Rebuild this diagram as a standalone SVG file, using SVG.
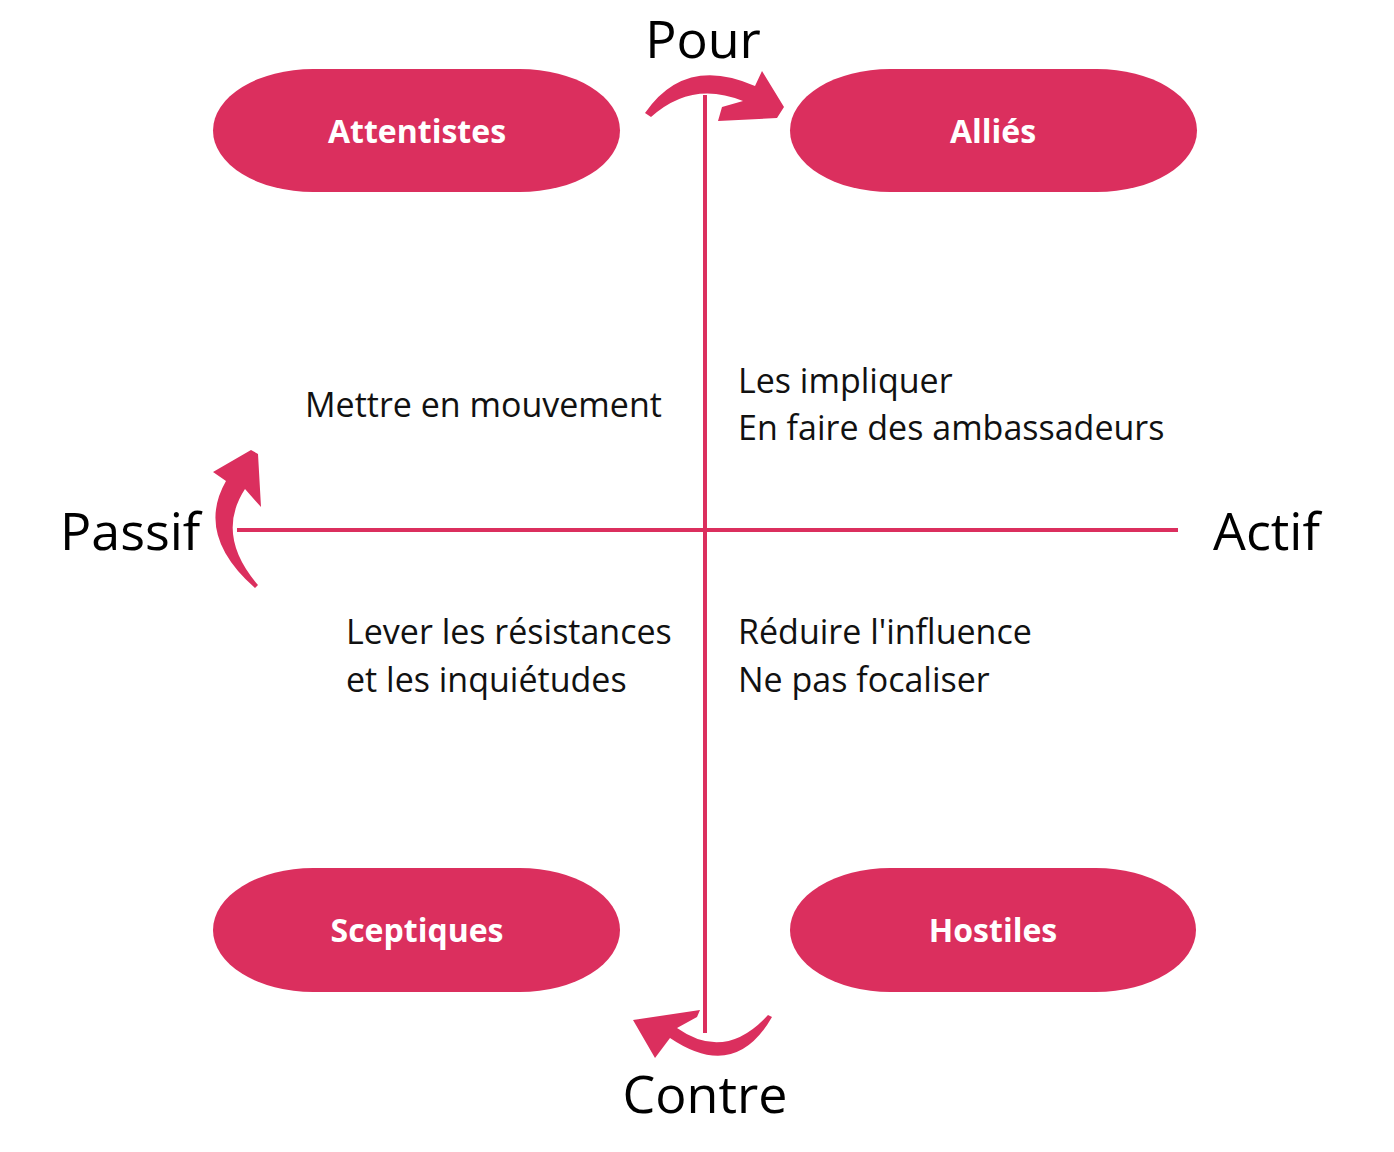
<svg xmlns="http://www.w3.org/2000/svg" width="1394" height="1152" viewBox="0 0 1394 1152">
<style>
.node{fill:#DB2F5E}
.lbl{font-family:"Open Sans","Liberation Sans",sans-serif;font-weight:700;font-size:32px;fill:#fff;text-anchor:middle}
.axis{stroke:#DB2F5E;stroke-width:4;fill:none}
.arr{fill:#DB2F5E}
.big{font-family:"Open Sans","Liberation Sans",sans-serif;font-size:52px;fill:#000}
.txt{font-family:"Open Sans","Liberation Sans",sans-serif;font-size:34px;fill:#111}
</style>
<rect width="1394" height="1152" fill="#fff"/>
<g id="connectors">
<line class="axis" x1="705" y1="95" x2="705" y2="1033"/>
<line class="axis" x1="237" y1="530" x2="1178" y2="530"/>
<path class="arr" d="M645,113 Q685,55 755,86 L762,71 L784,107 L777,118 L718,121 L722,107 L743,101 Q692,80 651,117 Z"/>
<path class="arr" d="M255,588 Q195,535 226,481 L213,472 L251,450 L258,454 L261,507 L245,489 Q215,535 258,585 Z"/>
<path class="arr" d="M772,1017 Q735,1082 670,1038 L655,1058 L633,1020 L700,1010 L697,1017 L677,1028 Q725,1062 768,1015 Z"/>
</g>
<g id="n-attentistes"><rect class="node" x="213" y="69" width="407" height="123" rx="100" ry="61.5"/><text class="lbl" x="417" y="143">Attentistes</text></g>
<g id="n-allies"><rect class="node" x="790" y="69" width="407" height="123" rx="100" ry="61.5"/><text class="lbl" x="993" y="143">Alliés</text></g>
<g id="n-sceptiques"><rect class="node" x="213" y="868" width="407" height="124" rx="100" ry="62"/><text class="lbl" x="417" y="942">Sceptiques</text></g>
<g id="n-hostiles"><rect class="node" x="790" y="868" width="406" height="124" rx="100" ry="62"/><text class="lbl" x="993" y="942">Hostiles</text></g>
<g id="labels">
<text class="big" x="703" y="58" text-anchor="middle">Pour</text>
<text class="big" x="60" y="550">Passif</text>
<text class="big" x="1213" y="550">Actif</text>
<text class="big" x="705" y="1113" text-anchor="middle">Contre</text>
<text class="txt" x="305" y="417">Mettre en mouvement</text>
<text class="txt" x="738" y="393">Les impliquer</text>
<text class="txt" x="738" y="440">En faire des ambassadeurs</text>
<text class="txt" x="346" y="644">Lever les résistances</text>
<text class="txt" x="346" y="692">et les inquiétudes</text>
<text class="txt" x="738" y="644">Réduire l'influence</text>
<text class="txt" x="738" y="692">Ne pas focaliser</text>
</g>
</svg>
